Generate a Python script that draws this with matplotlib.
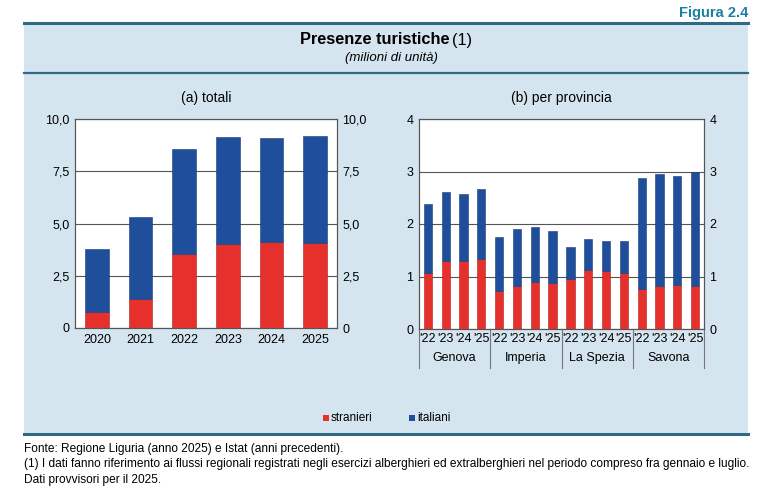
import matplotlib.pyplot as plt
import matplotlib.transforms as mtransforms
from matplotlib.patches import Rectangle
import numpy as np

plt.rcParams['font.family'] = ['Liberation Sans', 'DejaVu Sans']

# (a) totali
years = ['2020', '2021', '2022', '2023', '2024', '2025']
tot_stranieri = [0.78, 1.40, 3.52, 4.03, 4.12, 4.09]
tot_italiani = [2.98, 3.89, 5.05, 5.11, 4.97, 5.08]

# (b) per provincia
province = ['Genova', 'Imperia', 'La Spezia', 'Savona']
prov_years = ["'22", "'23", "'24", "'25"]
prov_stranieri = [1.07, 1.29, 1.29, 1.34,
                  0.72, 0.82, 0.89, 0.87,
                  0.96, 1.13, 1.10, 1.06,
                  0.77, 0.81, 0.83, 0.82]
prov_totale = [2.39, 2.61, 2.58, 2.66,
               1.75, 1.90, 1.95, 1.87,
               1.57, 1.71, 1.68, 1.67,
               2.88, 2.95, 2.92, 3.00]
prov_italiani = [t - s for t, s in zip(prov_totale, prov_stranieri)]

RED = '#E5302C'
BLUE = '#1F4E9A'
BG = '#D5E5EF'
LINE = '#2F6A86'
GRID = '#555555'

W, H = 768, 503
fig = plt.figure(figsize=(W / 100, H / 100), dpi=100)
fig.patch.set_facecolor('white')


def fx(px):
    return px / W


def fy(py):
    return 1 - py / H


# light blue panel
fig.patches.append(Rectangle((fx(24), fy(434)), fx(748) - fx(24), fy(23) - fy(434),
                             transform=fig.transFigure, facecolor=BG, edgecolor='none', zorder=-5))
for yy, lw in [(23, 2.2), (73, 1.6), (434, 2.2)]:
    fig.add_artist(plt.Line2D([fx(24), fx(748)], [fy(yy), fy(yy)], color=LINE, lw=lw,
                              transform=fig.transFigure))

fig.text(fx(748), fy(13), 'Figura 2.4', ha='right', va='center', fontsize=10.5,
         fontweight='bold', color='#1A7FA6')
fig.text(fx(449), fy(40), 'Presenze turistiche', ha='right', va='center', fontsize=11.8,
         fontweight='bold')
fig.text(fx(452), fy(40), '(1)', ha='left', va='center', fontsize=11.8)
fig.text(fx(391), fy(58), "(milioni di unità)", ha='center', va='center', fontsize=9.5,
         style='italic')

# left axes
ax1 = fig.add_axes([fx(75), fy(328), fx(337) - fx(75), fy(119) - fy(328)])
x1 = np.arange(len(years))
ax1.bar(x1, tot_stranieri, width=0.54, color=RED, edgecolor='#B02020', linewidth=0.4, zorder=3)
ax1.bar(x1, tot_italiani, bottom=tot_stranieri, width=0.54, color=BLUE,
        edgecolor='#173C78', linewidth=0.4, zorder=3)
ax1.set_xlim(-0.5, len(years) - 0.5)
ax1.set_ylim(0, 10)
ax1.set_yticks([0, 2.5, 5, 7.5, 10])
ylabs = ['0', '2,5', '5,0', '7,5', '10,0']
ax1.set_yticklabels(ylabs)
ax1.set_xticks(x1)
ax1.set_xticklabels(years)
ax1.set_title('(a) totali', fontsize=10, pad=12)
ax1r = ax1.twinx()
ax1r.set_ylim(0, 10)
ax1r.set_yticks([0, 2.5, 5, 7.5, 10])
ax1r.set_yticklabels(ylabs)

# right axes
ax2 = fig.add_axes([fx(419), fy(329), fx(704) - fx(419), fy(119) - fy(329)])
x2 = np.arange(len(prov_stranieri))
ax2.bar(x2, prov_stranieri, width=0.46, color=RED, edgecolor='#B02020', linewidth=0.4, zorder=3)
ax2.bar(x2, prov_italiani, bottom=prov_stranieri, width=0.46, color=BLUE,
        edgecolor='#173C78', linewidth=0.4, zorder=3)
ax2.set_xlim(-0.5, len(x2) - 0.5)
ax2.set_ylim(0, 4)
ax2.set_yticks([0, 1, 2, 3, 4])
ax2.set_xticks(x2)
ax2.set_xticklabels(prov_years * len(province))
ax2.set_title('(b) per provincia', fontsize=10, pad=12)
ax2r = ax2.twinx()
ax2r.set_ylim(0, 4)
ax2r.set_yticks([0, 1, 2, 3, 4])

trans = mtransforms.blended_transform_factory(ax2.transData, ax2.transAxes)
for i in range(len(province) + 1):
    xs = i * 4 - 0.5
    ax2.plot([xs, xs], [0, -0.185], color='#777777', lw=0.8, transform=trans, clip_on=False)
for i, name in enumerate(province):
    ax2.text(i * 4 + 1.5, -0.14, name, transform=trans, ha='center', va='center', fontsize=9)

for ax in (ax1, ax2, ax1r, ax2r):
    for s in ax.spines.values():
        s.set_color('#555555')
        s.set_linewidth(0.8)
    ax.tick_params(length=0, labelsize=9, pad=4)
for ax in (ax1, ax2):
    ax.set_facecolor('white')
    ax.grid(axis='y', color=GRID, lw=0.8, zorder=1)
    ax.set_axisbelow(True)
ax2.tick_params(axis='x', pad=3, labelsize=9)

# legend
fig.patches.append(Rectangle((fx(323), fy(421)), fx(6), fy(415) - fy(421),
                             transform=fig.transFigure, facecolor=RED, edgecolor='none'))
fig.text(fx(331), fy(418), 'stranieri', ha='left', va='center', fontsize=8.5)
fig.patches.append(Rectangle((fx(409), fy(421)), fx(6), fy(415) - fy(421),
                             transform=fig.transFigure, facecolor=BLUE, edgecolor='none'))
fig.text(fx(417), fy(418), 'italiani', ha='left', va='center', fontsize=8.5)

# notes
notes = ['Fonte: Regione Liguria (anno 2025) e Istat (anni precedenti).',
         '(1) I dati fanno riferimento ai flussi regionali registrati negli esercizi alberghieri ed '
         'extralberghieri nel periodo compreso fra gennaio e luglio.',
         'Dati provvisori per il 2025.']
for k, t in enumerate(notes):
    fig.text(fx(24), fy(449 + 15.5 * k), t, ha='left', va='center', fontsize=8.55)

fig.savefig('out.png', dpi=100)
